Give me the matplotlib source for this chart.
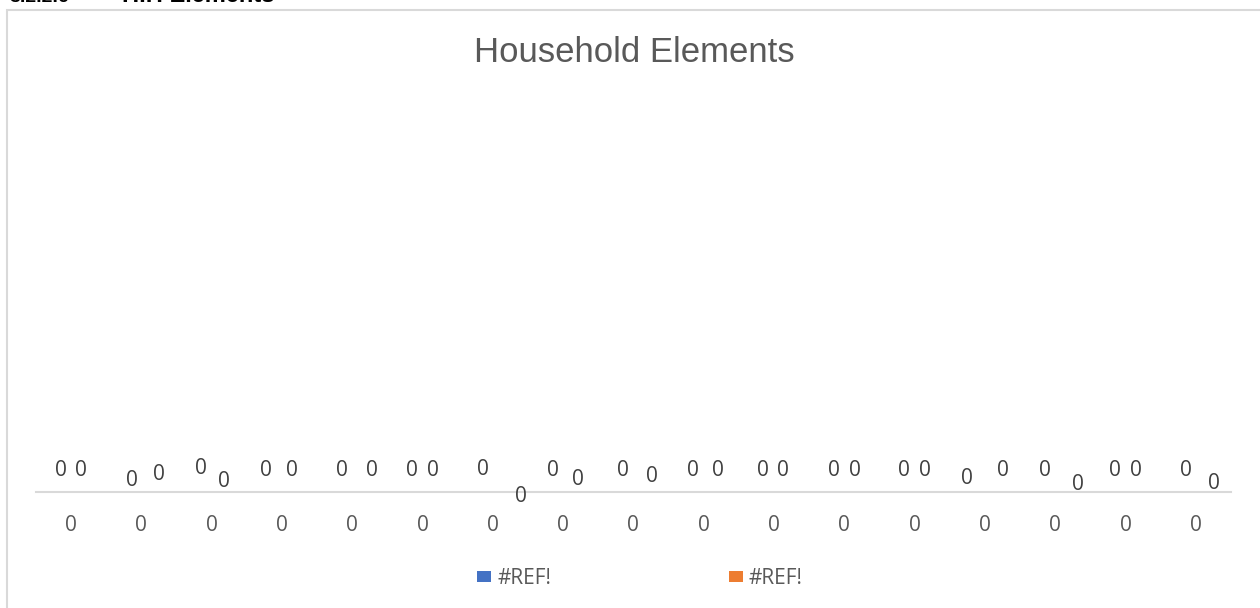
import matplotlib
matplotlib.use("Agg")
import matplotlib.pyplot as plt
from matplotlib.patches import Rectangle
import numpy as np

# ---- data -------------------------------------------------------------
categories = ["0", "0", "0", "0", "0", "0", "0", "0", "0",
              "0", "0", "0", "0", "0", "0", "0", "0"]
series_names = ["#REF!", "#REF!"]
values_a = [0, 0, 0, 0, 0, 0, 0, 0, 0, 0, 0, 0, 0, 0, 0, 0, 0]
values_b = [0, 0, 0, 0, 0, 0, 0, 0, 0, 0, 0, 0, 0, 0, 0, 0, 0]

# ---- label nudges (pixels, relative to the top of each bar) ----------
nudge_a_x = [-1, -0.5, -1.5, -7, -1.4, -1.7, -1, -0.7, -1, -1.9, -1.6, -0.9, -1.2, -8.8, -1, -1, -1]
nudge_a_y = [21.7, 11, 22.7, 21.7, 21.7, 21.7, 22, 21.7, 21.7, 21.7, 21.7, 21.7, 21.7, 13.7, 21.7, 21.7, 21.7]
nudge_b_x = [1, 8.9, 3.6, 0.7, 11, 1, 19, 6, 9.2, 5.5, 0, 1.3, 1, 8.7, 14, 1.4, 8.8]
nudge_b_y = [21.7, 17, 10.4, 21.7, 21.7, 21.7, -4.6, 12, 15.4, 21.7, 21.7, 21.7, 21.7, 21.7, 7, 21.7, 8]

W, H = 1260, 608
BLUE = "#4472C4"
ORANGE = "#ED7D31"
GRID = "#D9D9D9"
TXT = "#595959"
LBL = "#404040"
SMALL_FONT = ["Open Sans", "DejaVu Sans"]

fig = plt.figure(figsize=(W / 100, H / 100), dpi=100)
fig.patch.set_facecolor("white")

# plot area in pixel terms
ax_left, ax_right = 35.85, 1231.0
ax_base, ax_top = 491.7, 100.0
ax = fig.add_axes([ax_left / W, 1 - ax_base / H,
                   (ax_right - ax_left) / W, (ax_base - ax_top) / H])
ax.set_facecolor("none")

x = np.arange(len(categories))
off = 0.13
bars_a = ax.bar(x - off, values_a, width=0.26, color=BLUE, label=series_names[0])
bars_b = ax.bar(x + off, values_b, width=0.26, color=ORANGE, label=series_names[1])

ax.set_xlim(-0.5, len(categories) - 0.5)
ax.set_ylim(0, 1)
for side in ("left", "right", "top"):
    ax.spines[side].set_visible(False)
ax.spines["bottom"].set_color(GRID)
ax.spines["bottom"].set_linewidth(1.5)
ax.set_yticks([])
ax.set_xticks(x)
ax.set_xticklabels(categories, fontsize=15, color=TXT, family=SMALL_FONT)
ax.tick_params(axis="x", length=0, pad=17)

# data labels
for bars, vals, nx, ny in ((bars_a, values_a, nudge_a_x, nudge_a_y),
                           (bars_b, values_b, nudge_b_x, nudge_b_y)):
    for rect, v, dx, dy in zip(bars, vals, nx, ny):
        ax.annotate(f"{v:g}",
                    xy=(rect.get_x() + rect.get_width() / 2, rect.get_height()),
                    xytext=(dx, dy), textcoords="offset pixels",
                    ha="center", va="center", fontsize=15, color=LBL,
                    family=SMALL_FONT, annotation_clip=False)

# legend
leg = ax.legend(loc="center", bbox_to_anchor=(640 / W, 1 - 578.5 / H),
                bbox_transform=fig.transFigure, ncol=2, frameon=False,
                prop={"family": SMALL_FONT, "size": 15},
                handlelength=0.67, handleheight=0.45, handletextpad=0.3,
                columnspacing=8.5, borderpad=0, borderaxespad=0)
for t in leg.get_texts():
    t.set_color(TXT)

# title
fig.text(634 / W, 1 - 61.7 / H, "Household Elements", ha="center", va="baseline",
         fontsize=25, color=TXT, family="Liberation Sans")

# chart frame (continues past the right and bottom edges)
fig.add_artist(Rectangle((7 / W, -0.05), 1.1, 1 - 10 / H + 0.05,
                         transform=fig.transFigure, fill=False,
                         edgecolor=GRID, linewidth=1.5, clip_on=False))

# section heading sitting above the chart
fig.text(10 / W, 1 - 2.5 / H, "3.2.2.6", ha="left", va="baseline",
         fontsize=14, fontweight="bold", color="black", family="Liberation Sans")
fig.text(122 / W, 1 - 2.5 / H, "H.H Elements", ha="left", va="baseline",
         fontsize=17, fontweight="bold", color="black", family="Liberation Sans")

fig.savefig("out.png", dpi=100, facecolor="white")
